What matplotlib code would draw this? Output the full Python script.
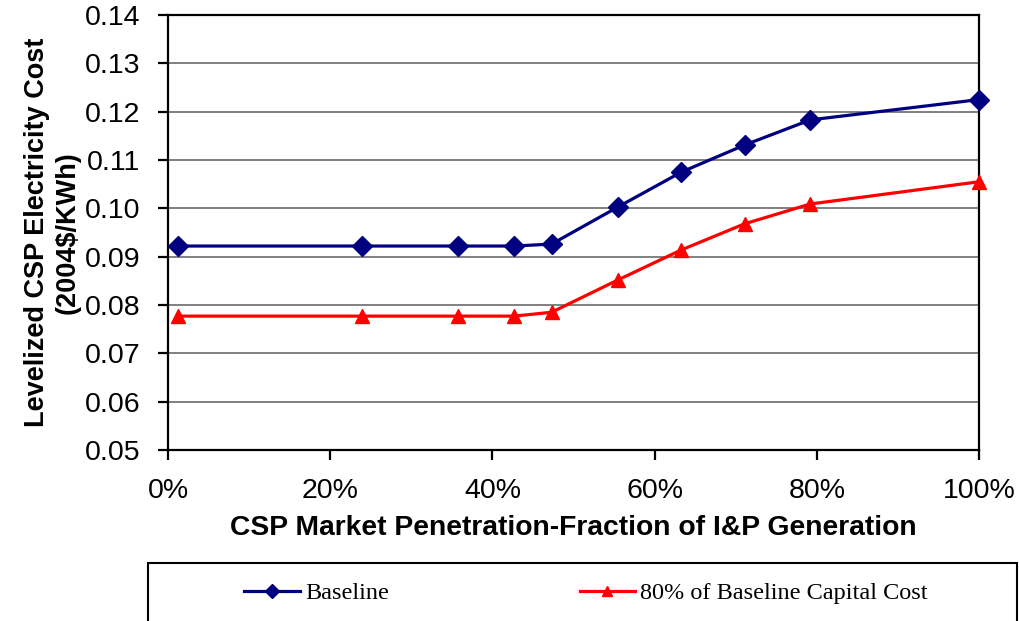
import matplotlib
matplotlib.use("Agg")
import matplotlib.pyplot as plt
from matplotlib.patches import Rectangle
from matplotlib.ticker import FuncFormatter, MultipleLocator

# values
penetration = [0.012, 0.239, 0.358, 0.427, 0.473, 0.555, 0.633, 0.711, 0.792, 1.0]
baseline = [0.0922, 0.0922, 0.0922, 0.0922, 0.0926, 0.1003, 0.1075, 0.1131, 0.1183, 0.1225]
reduced_capital = [0.0777, 0.0777, 0.0777, 0.0777, 0.0785, 0.0852, 0.0914, 0.0968, 0.1009, 0.1055]
series_names = ["Baseline", "80% of Baseline Capital Cost"]

plt.rcParams["font.family"] = ["Liberation Sans", "DejaVu Sans"]

fig = plt.figure(figsize=(10.2, 6.21), dpi=100)
ax = fig.add_axes([168 / 1020, 1 - 450 / 621, 811 / 1020, 435 / 621])

ax.plot(penetration, baseline, color="#000080", lw=2.3, marker="D", ms=10.5,
        clip_on=False, zorder=4, label=series_names[0])
ax.plot(penetration, reduced_capital, color="#FF0000", lw=2.3, marker="^", ms=10,
        clip_on=False, zorder=4, label=series_names[1])

ax.set_xlim(0, 1)
ax.set_ylim(0.05, 0.14)
ax.xaxis.set_major_locator(MultipleLocator(0.2))
ax.yaxis.set_major_locator(MultipleLocator(0.01))
ax.xaxis.set_major_formatter(FuncFormatter(lambda v, p: f"{v * 100:.0f}%"))
ax.yaxis.set_major_formatter(FuncFormatter(lambda v, p: f"{v:.2f}"))
ax.grid(axis="y", color="#808080", lw=1.4)
ax.set_axisbelow(True)
for s in ax.spines.values():
    s.set_color("black")
    s.set_linewidth(1.6)
ax.tick_params(labelsize=20.5, length=7, width=1.6, direction="out")
ax.tick_params(axis="y", pad=13)
ax.tick_params(axis="x", pad=13)

ax.set_xlabel("CSP Market Penetration-Fraction of I&P Generation",
              fontsize=20.3, fontweight="bold", labelpad=8)
ax.set_ylabel("Levelized CSP Electricity Cost\n(2004\\$/KWh)",
              fontsize=19.5, fontweight="bold", labelpad=3, linespacing=1.2)

# legend box spanning the bottom of the figure
fig.patches.append(Rectangle((148 / 1020, -0.05), 869 / 1020, 0.05 + (621 - 563) / 621,
                             transform=fig.transFigure, fill=False,
                             edgecolor="black", lw=1.5))
fig.legend(loc="center", bbox_to_anchor=(586 / 1020, 1 - 593 / 621), ncol=2,
           frameon=False, prop={"family": "Liberation Serif", "size": 17.5},
           handlelength=2.3, handletextpad=0.2, columnspacing=7.85,
           markerscale=0.65)

fig.savefig("out.png", dpi=100)
